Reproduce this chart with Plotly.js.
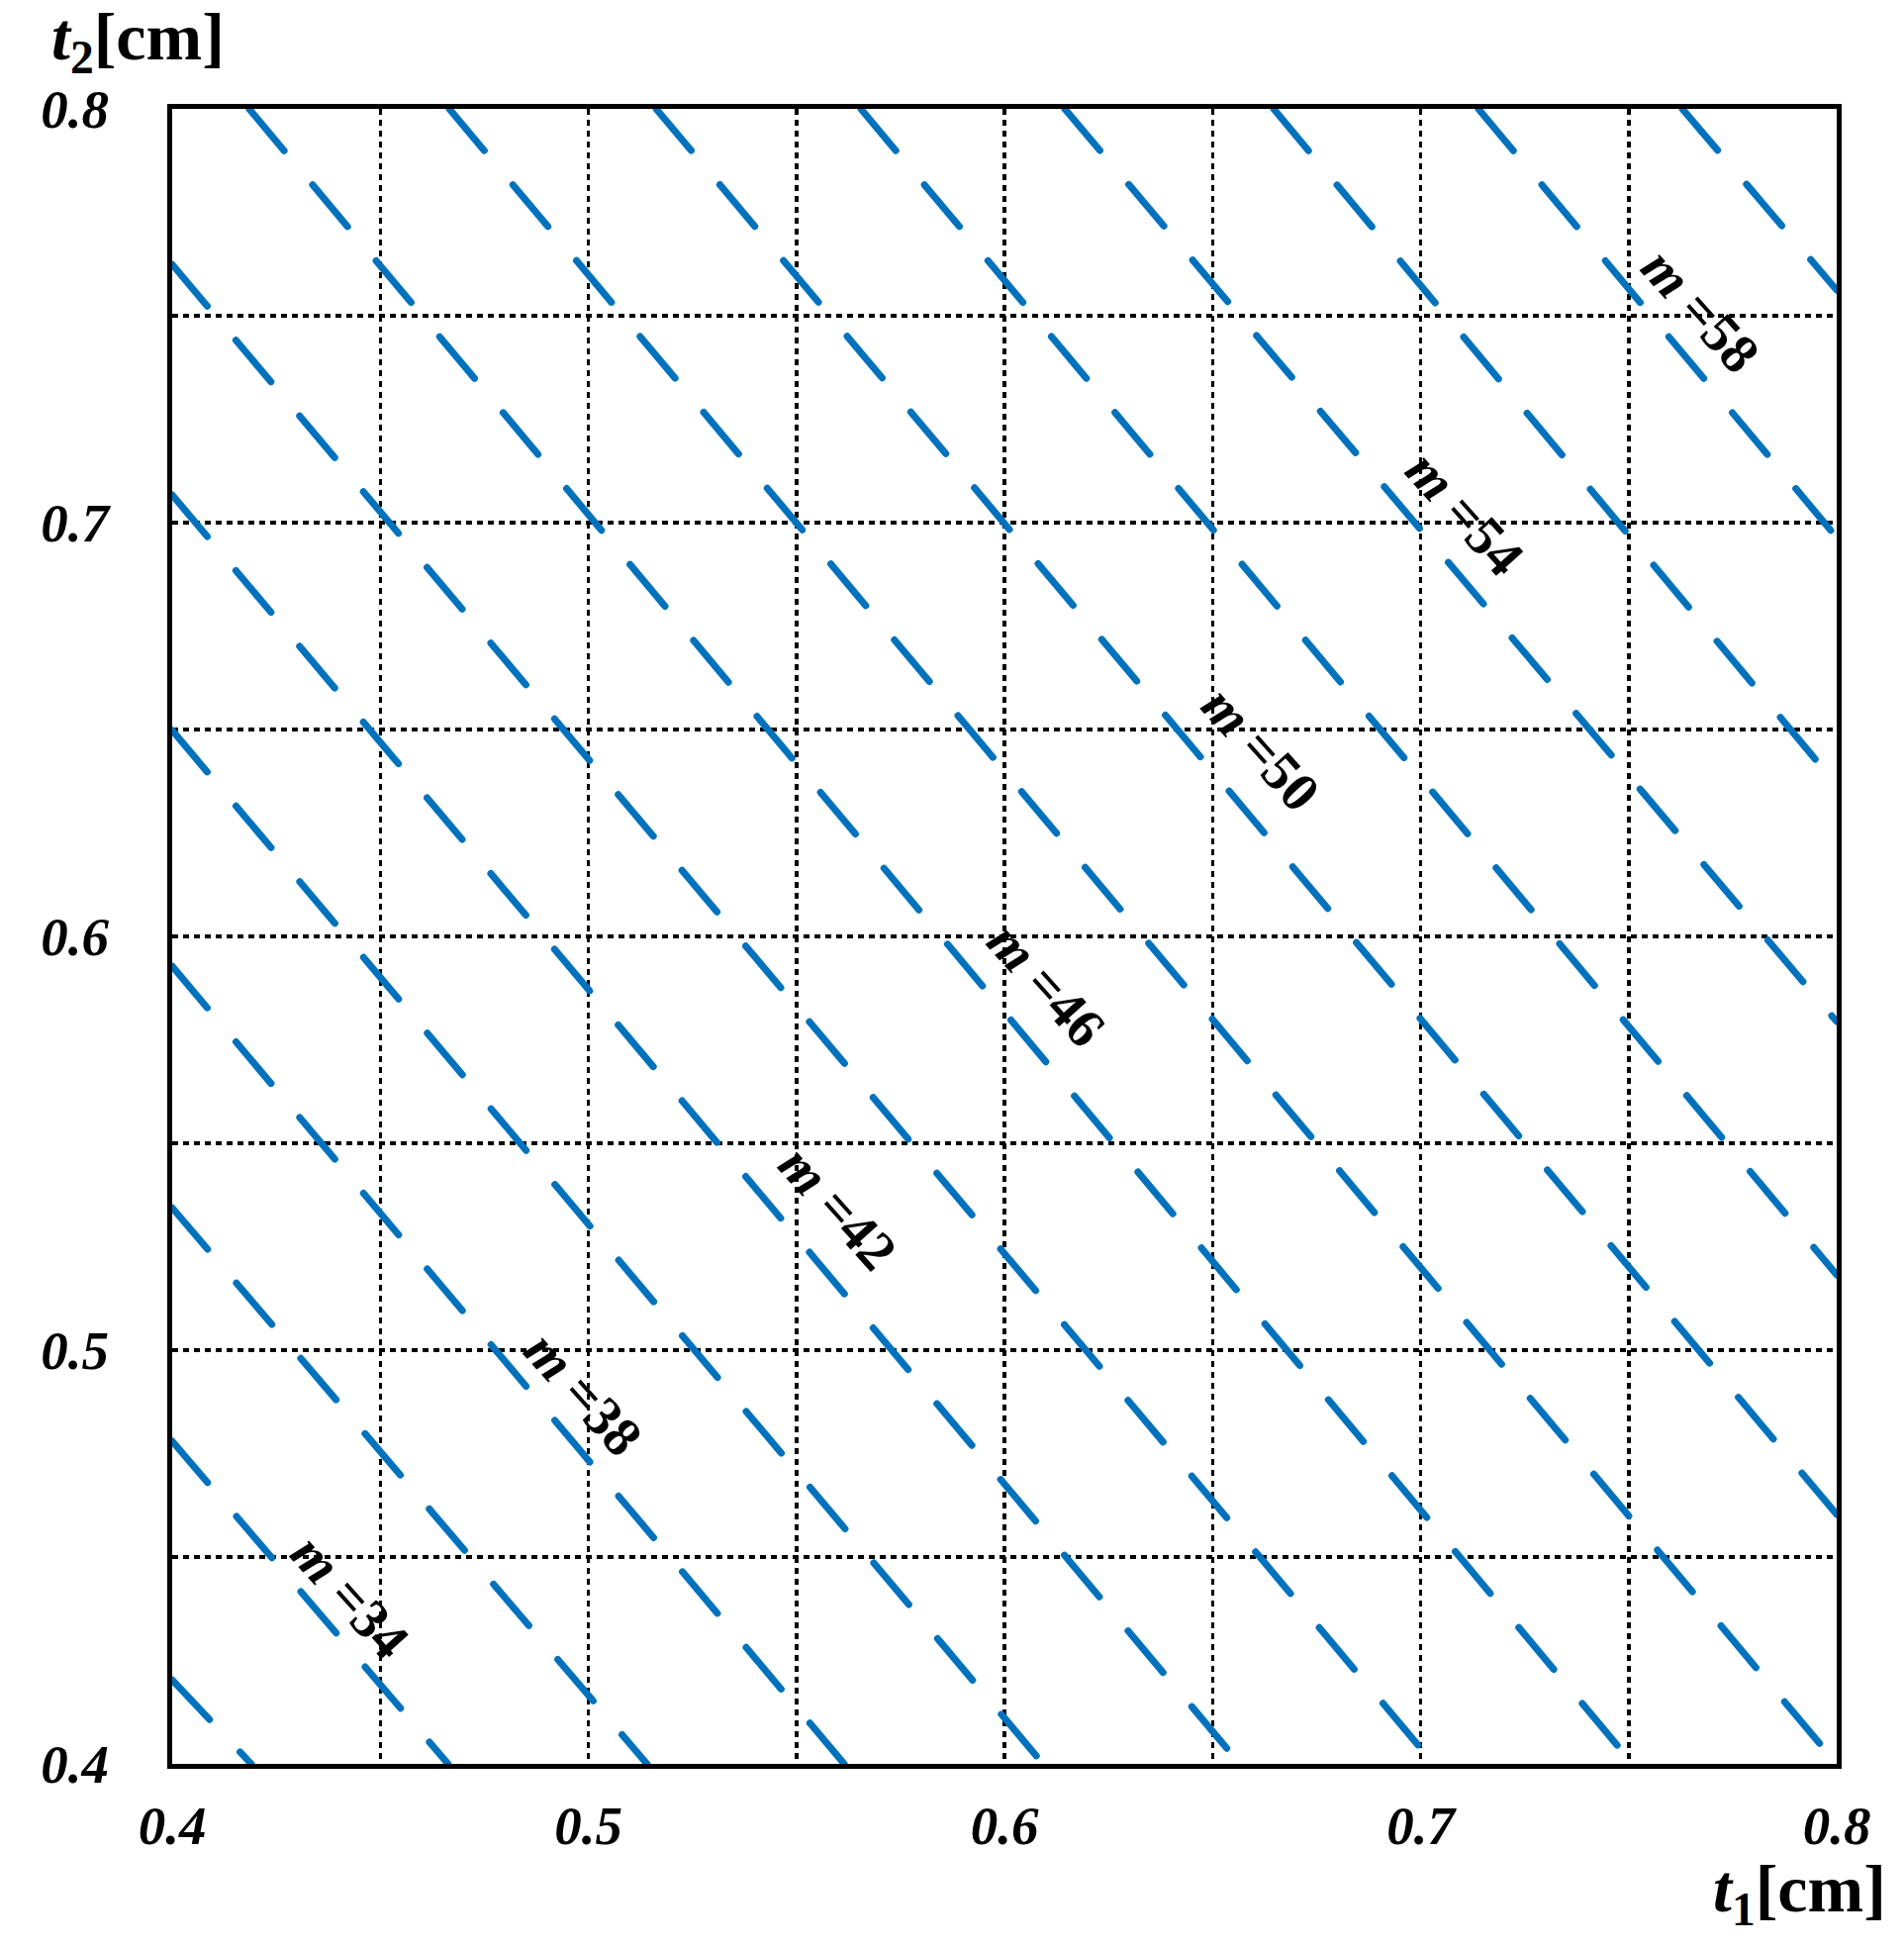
<!DOCTYPE html>
<html>
<head>
<meta charset="utf-8">
<script src="https://cdn.plot.ly/plotly-3.0.1.min.js"></script>
<style>
html, body { margin: 0; padding: 0; background: #ffffff; }
#chart { width: 1924px; height: 1968px; }
.scatterlayer .js-line { stroke-linecap: round; }
</style>
</head>
<body>
<div id="chart"></div>
<script>
// Contour levels of m and where each iso-line meets the frame
const levels = [32, 34, 36, 38, 40, 42, 44, 46, 48, 50, 52, 54, 56, 58, 60];
const startT1 = [0.4, 0.4, 0.4, 0.4, 0.4, 0.4, 0.4, 0.4185, 0.4666, 0.5163, 0.5655, 0.6145, 0.6647, 0.7139, 0.7629];
const startT2 = [0.4203, 0.4780, 0.5344, 0.5928, 0.6498, 0.7067, 0.7624, 0.8, 0.8, 0.8, 0.8, 0.8, 0.8, 0.8, 0.8];
const endT1 = [0.4190, 0.4663, 0.5141, 0.5615, 0.6093, 0.6566, 0.7032, 0.7510, 0.8, 0.8, 0.8, 0.8, 0.8, 0.8, 0.8];
const endT2 = [0.4, 0.4, 0.4, 0.4, 0.4, 0.4, 0.4, 0.4, 0.4, 0.4603, 0.5182, 0.5794, 0.6366, 0.6964, 0.7562];

// Inline contour labels
const labelLevels = [34, 38, 42, 46, 50, 54, 58];
const labelT1 = [0.4428, 0.4989, 0.5600, 0.6100, 0.6616, 0.7106, 0.7672];
const labelT2 = [0.4404, 0.4895, 0.5344, 0.5885, 0.6455, 0.7024, 0.7514];

// Axis ticks (labelled every 0.1, grid every 0.05)
const tickStart = 0.4;
const tickStep = 0.1;
const gridStep = 0.05;

const lineColor = '#0072BD';
const serif = 'Liberation Serif, Times New Roman, serif';

const traces = levels.map((m, i) => ({
  type: 'scatter',
  mode: 'lines',
  x: [startT1[i], endT1[i]],
  y: [startT2[i], endT2[i]],
  line: { color: lineColor, width: 7, dash: '55px,45px' },
  hoverinfo: 'skip',
  showlegend: false,
  name: 'm=' + m
}));

const labelAnnotations = labelLevels.map((m, i) => ({
  x: labelT1[i], y: labelT2[i], xref: 'x', yref: 'y',
  text: '<i>m</i> =' + m,
  showarrow: false,
  textangle: 48,
  xanchor: 'center', yanchor: 'middle',
  font: { family: serif, size: 56, color: '#000000', weight: 'bold' }
}));

const axisCommon = {
  range: [0.4, 0.8],
  fixedrange: true,
  tickmode: 'linear',
  tick0: tickStart,
  dtick: tickStep,
  tickformat: '.1f',
  ticks: '',
  showline: true,
  mirror: true,
  linecolor: '#000000',
  linewidth: 5,
  showgrid: true,
  gridcolor: '#000000',
  gridwidth: 3.5,
  griddash: '6px,5px',
  minor: {
    tick0: tickStart, dtick: gridStep, ticks: '',
    showgrid: true, gridcolor: '#000000', gridwidth: 3.5, griddash: '6px,5px'
  },
  zeroline: false,
  layer: 'above traces',
  tickfont: { family: serif, size: 55, color: '#000000', weight: 'bold', style: 'italic' }
};

const layout = {
  width: 1924,
  height: 1968,
  margin: { l: 174, r: 68, t: 110, b: 186, pad: 0 },
  paper_bgcolor: '#ffffff',
  plot_bgcolor: '#ffffff',
  showlegend: false,
  xaxis: Object.assign({}, axisCommon, { ticklabelstandoff: 10 }),
  yaxis: Object.assign({}, axisCommon, { ticklabelstandoff: 48 }),
  annotations: labelAnnotations.concat([
    {
      xref: 'paper', yref: 'paper', x: -0.0737, y: 1.041,
      xanchor: 'left', yanchor: 'middle', showarrow: false,
      text: '<b><i>t</i><sub>2</sub>[cm]</b>',
      font: { family: serif, size: 68, color: '#000000' }
    },
    {
      xref: 'paper', yref: 'paper', x: 1.031, y: -0.078,
      xanchor: 'right', yanchor: 'middle', showarrow: false,
      text: '<b><i>t</i><sub>1</sub>[cm]</b>',
      font: { family: serif, size: 68, color: '#000000' }
    }
  ])
};

Plotly.newPlot('chart', traces, layout, { displayModeBar: false, staticPlot: true });
</script>
</body>
</html>
